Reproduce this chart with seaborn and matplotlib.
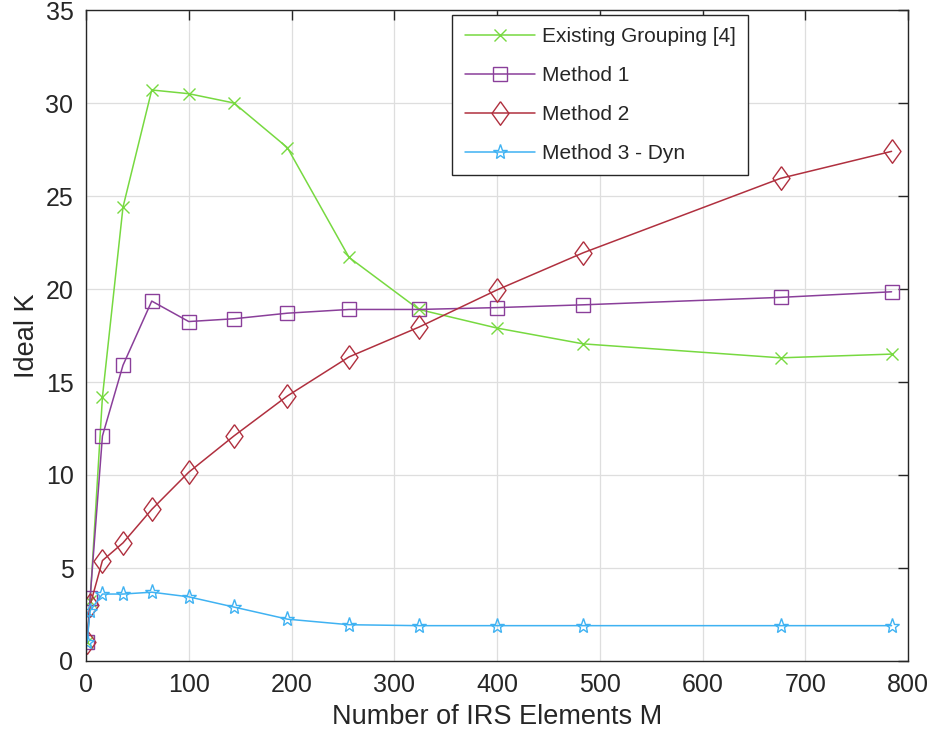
import matplotlib
matplotlib.use("Agg")
import matplotlib.pyplot as plt
import seaborn as sns
import pandas as pd

M = [1, 4, 16, 36, 64, 100, 144, 196, 256, 324, 400, 484, 676, 784]
existing = [1.0, 3.2, 14.2, 24.4, 30.7, 30.5, 30.0, 27.6, 21.7, 18.9, 17.9, 17.05, 16.3, 16.5]
method1 = [1.0, 3.4, 12.1, 15.9, 19.35, 18.25, 18.4, 18.7, 18.9, 18.9, 19.0, 19.15, 19.55, 19.85]
method2 = [1.0, 3.0, 5.4, 6.35, 8.15, 10.15, 12.1, 14.25, 16.35, 17.95, 19.95, 21.95, 25.95, 27.4]
method3 = [1.0, 2.7, 3.6, 3.6, 3.7, 3.45, 2.9, 2.25, 1.95, 1.9, 1.9, 1.9, 1.9, 1.9]

labels = ["Existing Grouping [4]", "Method 1", "Method 2", "Method 3 - Dyn"]
colors = ["#77d940", "#8a3f9a", "#b0303f", "#3fb2f2"]
diamond = [(0, 1), (0.72, 0), (0, -1), (-0.72, 0), (0, 1)]
markers = ["x", "s", diamond, "*"]
msizes = [8, 9.5, 17, 11]

sns.set_style("white")
plt.rcParams['font.family'] = ['Liberation Sans', 'DejaVu Sans']

fig = plt.figure(figsize=(9.35, 7.4), dpi=100)
ax = fig.add_axes([86/935, 79/740, 822/935, 651/740])

for ys, lab, c, mk, ms in zip([existing, method1, method2, method3], labels, colors, markers, msizes):
    df = pd.DataFrame({"M": M, "K": ys})
    sns.lineplot(data=df, x="M", y="K", ax=ax, color=c, marker=mk, markersize=ms,
                 markerfacecolor="none", markeredgecolor=c, markeredgewidth=1.0,
                 linewidth=1.1, label=lab)

ax.set_xlim(0, 800)
ax.set_ylim(0, 35)
ax.set_xticks(range(0, 801, 100))
ax.set_yticks(range(0, 36, 5))
ax.grid(True, color="#dedede", linewidth=0.9)
ax.set_axisbelow(True)
for s in ax.spines.values():
    s.set_color("#262626")
    s.set_linewidth(1.0)
ax.tick_params(direction="in", length=7, width=1.0, colors="#262626", labelsize=18,
               top=True, right=True, labeltop=False, labelright=False, pad=9)
ax.set_xlabel("Number of IRS Elements M", fontsize=19.5, color="#262626", labelpad=5)
ax.set_ylabel("Ideal K", fontsize=19.5, color="#262626", labelpad=4)

leg = ax.legend(loc="upper left", bbox_to_anchor=((452-86)/822, (661-15)/651),
                fontsize=15, frameon=True, fancybox=False, edgecolor="#262626",
                handlelength=3.4, borderpad=0.6, labelspacing=0.95, handletextpad=0.3,
                borderaxespad=0)
leg.get_frame().set_linewidth(1.0)
leg.get_frame().set_alpha(1)

fig.savefig("out.png", dpi=100)
